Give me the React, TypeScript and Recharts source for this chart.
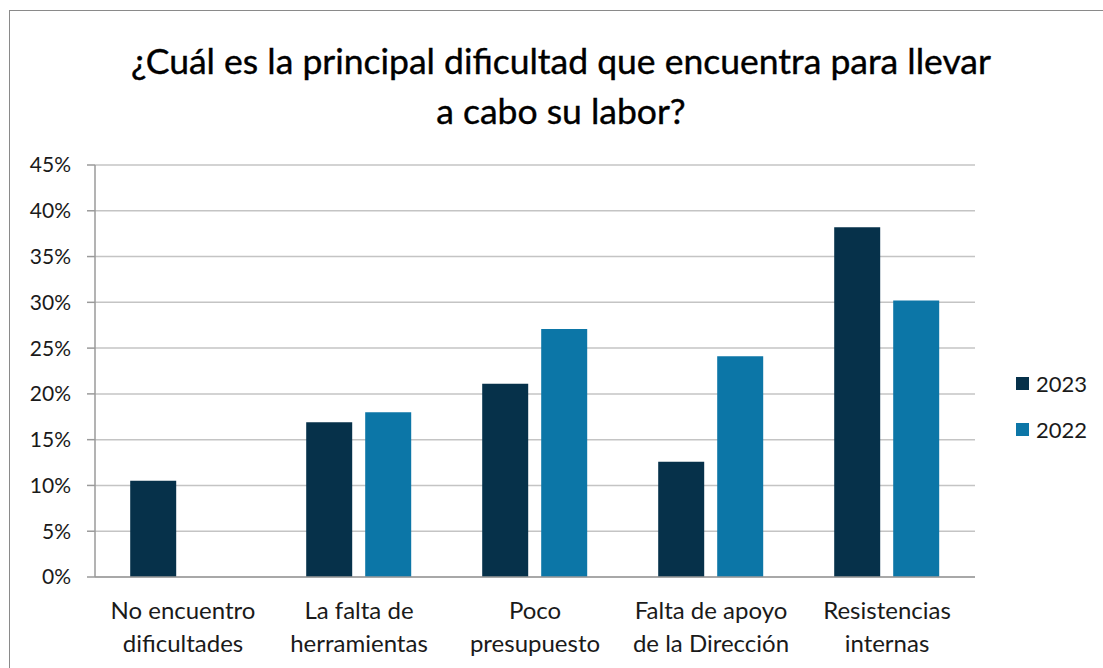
import React from "react";
import { BarChart, Bar, XAxis, YAxis, CartesianGrid } from "recharts";

// --- chart data
const categories = [
  "No encuentro\ndificultades",
  "La falta de\nherramientas",
  "Poco\npresupuesto",
  "Falta de apoyo\nde la Dirección",
  "Resistencias\ninternas",
];
const values2023 = [10.5, 16.9, 21.1, 12.6, 38.2];
const values2022 = [null, 18.0, 27.1, 24.1, 30.2];
const yTicks = [0, 5, 10, 15, 20, 25, 30, 35, 40, 45];
const boundaryTicks = [0, 1, 2, 3, 4, 5];
const seriesNames = ["2023", "2022"];
const seriesColors = ["#06314a", "#0c76a7"];
const title = ["¿Cuál es la principal dificultad que encuentra para llevar", "a cabo su labor?"];

const FONT = "Lato, 'Open Sans', sans-serif";

const data = categories.map((name, i) => ({
  name,
  y2023: values2023[i],
  y2022: values2022[i],
}));

const CatTick = ({ x, y, payload }: any) => {
  const lines = String(payload.value).split("\n");
  return (
    <text x={x} y={y} textAnchor="middle" fontSize={24} fill="#1a1a1a" fontFamily={FONT}>
      {lines.map((l, i) => (
        <tspan key={i} x={x} dy={33}>
          {l}
        </tspan>
      ))}
    </text>
  );
};

const App = () => {
  return (
    <div
      style={{
        position: "fixed",
        left: 0,
        top: 0,
        width: 1103,
        height: 668,
        overflow: "hidden",
        background: "#fff",
        fontFamily: FONT,
      }}
    >
      {/* --- frame of the original picture */}
      <div
        style={{
          position: "absolute",
          left: 9,
          top: 10,
          width: 1200,
          height: 800,
          borderLeft: "1.5px solid #8a8a8a",
          borderTop: "1.5px solid #8a8a8a",
        }}
      />
      <div
        style={{
          position: "absolute",
          left: 9,
          top: 36,
          width: 1104,
          textAlign: "center",
          fontSize: 35.5,
          lineHeight: "50px",
          color: "#000",
          WebkitTextStroke: "0.4px #000",
        }}
      >
        {title.map((t, i) => (
          <div key={i}>{t}</div>
        ))}
      </div>
      <div style={{ position: "absolute", left: 0, top: 0 }}>
        <BarChart
          width={1103}
          height={668}
          data={data}
          margin={{ top: 165, right: 128, bottom: 0, left: 35 }}
          barCategoryGap="20%"
          barGap={13}
        >
          <CartesianGrid
            xAxisId="cat"
            vertical={false}
            stroke="#c4c4c4"
            strokeWidth={1.5}
          />
          <XAxis
            xAxisId="band"
            type="number"
            domain={[0, categories.length]}
            ticks={boundaryTicks}
            tick={false}
            tickSize={8}
            height={1}
            axisLine={{ stroke: "#9a9a9a", strokeWidth: 1.5 }}
            tickLine={{ stroke: "#9a9a9a", strokeWidth: 1.5 }}
          />
          <XAxis
            xAxisId="cat"
            dataKey="name"
            axisLine={false}
            tickLine={false}
            interval={0}
            height={90}
            tick={<CatTick />}
          />
          <YAxis
            width={60}
            domain={[0, 45]}
            ticks={yTicks}
            tickFormatter={(v: number) => `${v}%`}
            tickSize={8}
            tickMargin={16}
            axisLine={{ stroke: "#9a9a9a", strokeWidth: 1.5 }}
            tickLine={{ stroke: "#9a9a9a", strokeWidth: 1.5 }}
            tick={{ fontSize: 21, fill: "#1a1a1a", fontFamily: FONT }}
            interval={0}
          />
          <Bar xAxisId="cat" dataKey="y2023" name={seriesNames[0]} fill={seriesColors[0]} isAnimationActive={false} />
          <Bar xAxisId="cat" dataKey="y2022" name={seriesNames[1]} fill={seriesColors[1]} isAnimationActive={false} />
        </BarChart>
      </div>
      {/* --- legend on the right */}
      <div style={{ position: "absolute", left: 1016, top: 368 }}>
        {seriesNames.map((s, i) => (
          <div
            key={s}
            style={{ display: "flex", alignItems: "center", height: 30, marginBottom: 16 }}
          >
            <span
              style={{
                display: "inline-block",
                width: 13,
                height: 13,
                background: seriesColors[i],
                marginRight: 7,
              }}
            />
            <span style={{ fontSize: 22, color: "#1a1a1a" }}>{s}</span>
          </div>
        ))}
      </div>
    </div>
  );
};

export default App;
